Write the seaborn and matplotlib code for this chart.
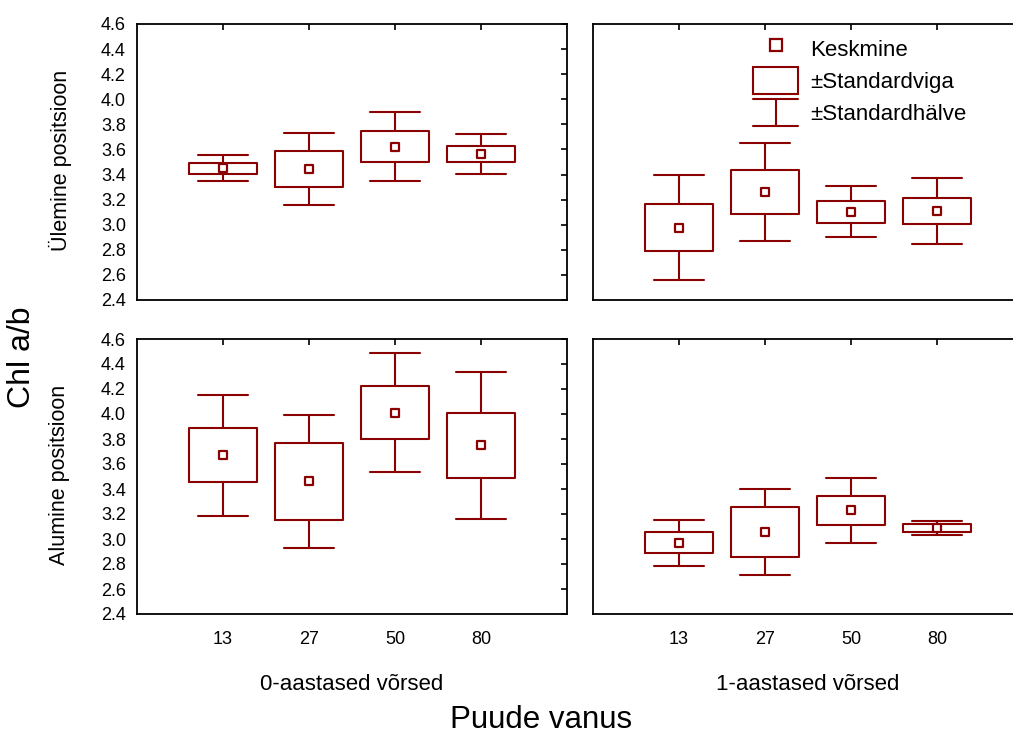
import numpy as np
import pandas as pd
import matplotlib
matplotlib.use("Agg")
import matplotlib.pyplot as plt
import seaborn as sns
from matplotlib.legend_handler import HandlerBase
from matplotlib.lines import Line2D
from matplotlib.patches import Rectangle

# ---------------- data ----------------
ages = ["13", "27", "50", "80"]
shoot_labels = ["0-aastased võrsed", "1-aastased võrsed"]
row_labels = ["Ülemine positsioon", "Alumine positsioon"]

# upper position, 0-year shoots
mean_up_0 = [3.45, 3.445, 3.623, 3.565]
se_up_0 = [0.046, 0.144, 0.124, 0.065]
sd_up_0 = [0.102, 0.287, 0.274, 0.158]
# upper position, 1-year shoots
mean_up_1 = [2.977, 3.263, 3.105, 3.112]
se_up_1 = [0.186, 0.174, 0.088, 0.104]
sd_up_1 = [0.416, 0.390, 0.200, 0.262]
# lower position, 0-year shoots
mean_lo_0 = [3.668, 3.461, 4.009, 3.749]
se_lo_0 = [0.216, 0.308, 0.213, 0.262]
sd_lo_0 = [0.485, 0.533, 0.476, 0.586]
# lower position, 1-year shoots
mean_lo_1 = [2.971, 3.057, 3.230, 3.088]
se_lo_1 = [0.083, 0.199, 0.116, 0.031]
sd_lo_1 = [0.184, 0.345, 0.260, 0.059]

legend_labels = ["Keskmine", "±Standardviga", "±Standardhälve"]

# ---------------- style ----------------
sns.set_style("white")
plt.rcParams["font.family"] = ["Liberation Sans", "DejaVu Sans"]
plt.rcParams["text.color"] = "black"
plt.rcParams["axes.labelcolor"] = "black"
plt.rcParams["xtick.color"] = "black"
plt.rcParams["ytick.color"] = "black"

DARK = "#8B0000"
W, H = 1013, 736
fig = plt.figure(figsize=(W / 100, H / 100), dpi=100)


def frac(x0, y0, x1, y1):
    return [x0 / W, 1 - y1 / H, (x1 - x0) / W, (y1 - y0) / H]


boxes = {
    (0, 0): frac(137, 24, 567, 300),
    (0, 1): frac(593, 24, 1023, 300),
    (1, 0): frac(137, 339, 567, 614),
    (1, 1): frac(593, 339, 1023, 614),
}
panel_data = {
    (0, 0): (mean_up_0, se_up_0, sd_up_0),
    (0, 1): (mean_up_1, se_up_1, sd_up_1),
    (1, 0): (mean_lo_0, se_lo_0, sd_lo_0),
    (1, 1): (mean_lo_1, se_lo_1, sd_lo_1),
}

xpos = np.arange(1, len(ages) + 1)
yt = np.round(np.arange(2.4, 4.61, 0.2), 1)
axes = {}
for key, rect in boxes.items():
    r, c = key
    ax = fig.add_axes(rect)
    axes[key] = ax
    means, ses, sds = panel_data[key]
    df = pd.DataFrame({"x": xpos, "mean": means, "se": ses, "sd": sds})
    stats = [
        dict(med=m, q1=m - s, q3=m + s, whislo=m - d, whishi=m + d, fliers=[])
        for m, s, d in zip(df["mean"], df["se"], df["sd"])
    ]
    lp = dict(color=DARK, linewidth=1.5)
    ax.bxp(stats, positions=df["x"], widths=0.8, capwidths=0.57,
           showfliers=False, boxprops=dict(lp), whiskerprops=dict(lp),
           capprops=dict(lp), medianprops=dict(linewidth=0),
           manage_ticks=False)
    sns.scatterplot(data=df, x="x", y="mean", marker="s", s=32,
                    color="white", edgecolor=DARK, linewidth=1.6,
                    ax=ax, zorder=4, legend=False)
    ax.set_xlim(0, 5)
    ax.set_ylim(2.4, 4.6)
    ax.set_xticks(xpos)
    ax.set_yticks(yt)
    ax.set_xlabel("")
    ax.set_ylabel("")
    if r == 1:
        ax.set_xticklabels(ages)
    else:
        ax.set_xticklabels([])
    if c == 0:
        ax.set_yticklabels([f"{v:.1f}" for v in yt])
    else:
        ax.set_yticklabels([])
    ax.tick_params(axis="both", direction="in", top=True, right=True,
                   length=4, width=1.2, colors="black", labelsize=13,
                   labelcolor="black")
    ax.tick_params(axis="y", pad=8)
    ax.tick_params(axis="x", pad=12)
    for sp in ax.spines.values():
        sp.set_visible(True)
        sp.set_color("black")
        sp.set_linewidth(1.3)


# ---------------- legend ----------------
class WhiskerKey:
    pass


class HandlerWhisker(HandlerBase):
    def create_artists(self, legend, orig_handle, xdescent, ydescent,
                       width, height, fontsize, trans):
        x0, x1 = -xdescent, -xdescent + width
        y0, y1 = -ydescent, -ydescent + height
        xm = (x0 + x1) / 2
        arts = [Line2D([x0, x1], [y1, y1]), Line2D([x0, x1], [y0, y0]),
                Line2D([xm, xm], [y0, y1])]
        for a in arts:
            a.set_color(DARK)
            a.set_linewidth(1.5)
            a.set_transform(trans)
        return arts


h_mean = Line2D([], [], linestyle="none", marker="s", markersize=8,
                markerfacecolor="white", markeredgecolor=DARK, markeredgewidth=1.6)
h_box = Rectangle((0, 0), 1, 1, facecolor="none", edgecolor=DARK, linewidth=1.5)
h_wh = WhiskerKey()
axes[(0, 1)].legend([h_mean, h_box, h_wh], legend_labels,
                    handler_map={WhiskerKey: HandlerWhisker()},
                    loc="upper left", bbox_to_anchor=(753 / W, 1 - 35 / H),
                    bbox_transform=fig.transFigure, frameon=False, fontsize=16,
                    handlelength=2.03, handleheight=1.49, handletextpad=0.55,
                    labelspacing=0.22, borderpad=0, borderaxespad=0)

# ---------------- texts ----------------
def ftext(x, y, s, **kw):
    fig.text(x / W, 1 - y / H, s, ha="center", va="center", color="black", **kw)


ftext(352, 684, shoot_labels[0], fontsize=16)
ftext(808, 684, shoot_labels[1], fontsize=16)
ftext(541, 720, "Puude vanus", fontsize=22.5)
ftext(60, 160, row_labels[0], fontsize=15.5, rotation=90)
ftext(60, 475, row_labels[1], fontsize=15.5, rotation=90)
ftext(22, 357, "Chl a/b", fontsize=23, rotation=90)

fig.savefig("out.png", dpi=100)
